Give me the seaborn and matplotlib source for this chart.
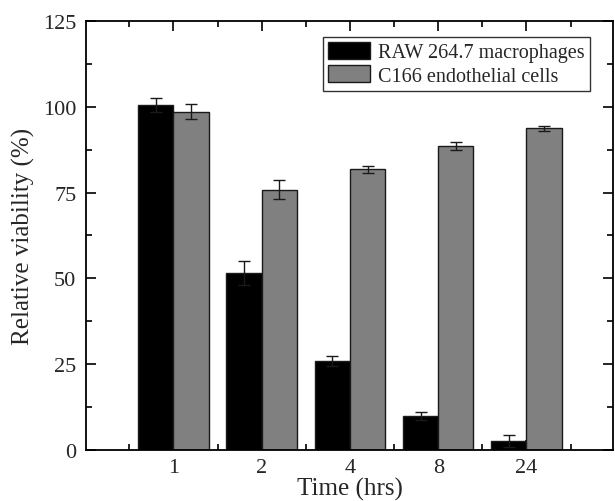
import pandas as pd
import seaborn as sns
import matplotlib.pyplot as plt
from matplotlib.ticker import MultipleLocator, FixedLocator

times = ["1", "2", "4", "8", "24"]
raw_mean = [100.5, 51.5, 26.0, 10.0, 2.7]
raw_err = [2.0, 3.5, 1.5, 1.2, 1.8]
c166_mean = [98.5, 75.8, 81.8, 88.5, 93.7]
c166_err = [2.2, 2.8, 1.0, 1.2, 0.8]
groups = ["RAW 264.7 macrophages", "C166 endothelial cells"]

df = pd.DataFrame({
    "time": times * 2,
    "viability": raw_mean + c166_mean,
    "err": raw_err + c166_err,
    "cells": [groups[0]] * 5 + [groups[1]] * 5,
})

sns.set_theme(style="ticks")
plt.rcParams["font.family"] = ["Liberation Serif", "DejaVu Serif"]

fig = plt.figure(figsize=(6.15, 5.02), dpi=100)
ax = fig.add_axes([0.1398, 0.1016, 0.8569, 0.8546])

sns.barplot(data=df, x="time", y="viability", hue="cells", order=times,
            hue_order=groups, palette=["#000000", "#808080"],
            errorbar=None, width=0.8, edgecolor="#1a1a1a", linewidth=1.0,
            ax=ax)

# error bars placed on the bar centres seaborn drew
for container, grp in zip(ax.containers, groups):
    sub = df[df["cells"] == grp].set_index("time").loc[times]
    xs = [p.get_x() + p.get_width() / 2 for p in container.patches]
    ax.errorbar(xs, sub["viability"], yerr=sub["err"], fmt="none",
                ecolor="#1a1a1a", elinewidth=1.0, capsize=4, capthick=1.0,
                zorder=3)

ax.set_xlim(-0.99, 4.98)
ax.set_ylim(0, 125)
ax.yaxis.set_major_locator(MultipleLocator(25))
ax.yaxis.set_minor_locator(MultipleLocator(12.5))
ax.xaxis.set_minor_locator(FixedLocator([-0.5, 0.5, 1.5, 2.5, 3.5, 4.5]))
ax.tick_params(which="both", direction="in", top=True, right=True,
               labelsize=16, color="black", width=1.2)
ax.tick_params(which="major", length=7)
ax.tick_params(which="minor", length=4)
ax.tick_params(axis="x", pad=6)
ax.tick_params(axis="y", pad=7)
for s in ax.spines.values():
    s.set_visible(True)
    s.set_color("black")
    s.set_linewidth(1.3)

ax.set_xlabel("Time (hrs)", fontsize=18, labelpad=0)
ax.set_ylabel("Relative viability (%)", fontsize=18, labelpad=6)

leg = ax.legend(loc="upper right", bbox_to_anchor=(0.956, 0.963),
                fontsize=14.5, frameon=True, fancybox=False, edgecolor="black",
                handlelength=2.1, handleheight=0.9, handletextpad=0.4,
                borderpad=0.25, labelspacing=0.15, borderaxespad=0)
leg.get_frame().set_linewidth(1.0)

fig.savefig("out.png", dpi=100)
